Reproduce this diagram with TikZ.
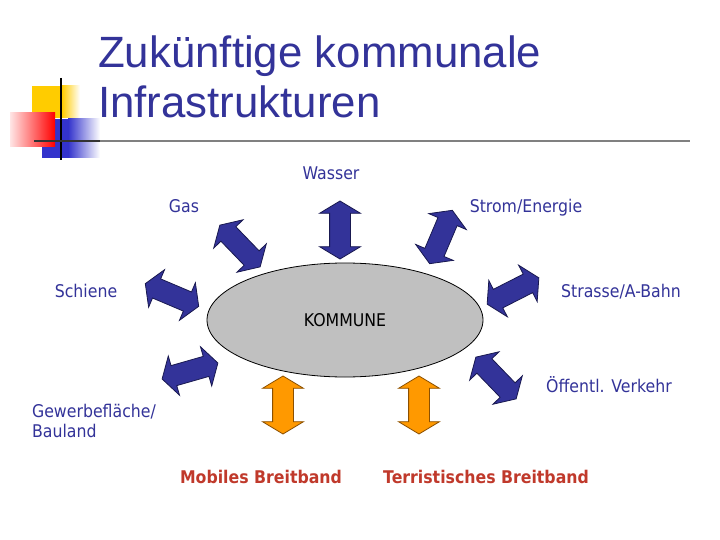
\documentclass[tikz,border=0pt]{standalone}
\usepackage{fontspec}
\usepackage{tikz}
\usetikzlibrary{shapes, positioning}
\setmainfont{DejaVu Sans}[FakeStretch=0.9]
\newfontfamily\titlefont{Liberation Sans}
\definecolor{navy}{RGB}{51,51,153}
\definecolor{arrowblue}{RGB}{51,51,153}
\definecolor{arrowline}{RGB}{25,25,80}
\definecolor{arroworange}{RGB}{255,153,0}
\definecolor{orangeline}{RGB}{140,80,0}
\definecolor{breitband}{RGB}{192,57,43}
\definecolor{ellipsegray}{RGB}{192,192,192}
\definecolor{logoyellow}{RGB}{255,204,0}
\definecolor{logored}{RGB}{255,0,0}
\definecolor{logoblue}{RGB}{51,51,204}
\tikzstyle{headline} = [anchor=base west, inner sep=0pt, text height=32pt, text depth=10pt, text=navy, font=\titlefont\fontsize{43.8}{50}\selectfont]
\tikzstyle{infotext} = [inner sep=0pt, text=navy, font=\fontsize{17.5}{20}\selectfont]
\tikzstyle{redtext} = [inner sep=0pt, text=breitband, font=\bfseries\fontsize{17.5}{20}\selectfont]
\tikzstyle{kommunebox} = [ellipse, draw=black, fill=ellipsegray, line width=0.8pt, minimum width=276pt, minimum height=114pt, inner sep=0pt, font=\fontsize{17.5}{20}\selectfont]
\tikzstyle{bluearrow} = [double arrow, double arrow head extend=10pt, double arrow tip angle=118, minimum height=58pt, inner xsep=0pt, inner ysep=10pt, draw=arrowline, fill=arrowblue, line width=0.8pt]
\tikzstyle{orangearrow} = [double arrow, double arrow head extend=10pt, double arrow tip angle=118, minimum height=58pt, inner xsep=0pt, inner ysep=10pt, draw=orangeline, fill=arroworange, line width=0.8pt]

\begin{document}
\begin{tikzpicture}[x=1pt, y=1pt, node distance=90pt]
\useasboundingbox (0,0) rectangle (720,-540);
\fill[white] (0,0) rectangle (720,-540);

\fill[logoyellow] (32,-86) rectangle (62,-118);
\shade[left color=logoyellow, right color=white] (62,-86) rectangle (80,-118);
\fill[logoblue] (42,-119) rectangle (68,-158);
\shade[left color=logoblue, right color=white] (68,-119) rectangle (100,-158);
\shade[left color=logored!10, right color=logored] (10,-113) rectangle (55,-147);
\draw[black, line width=2pt] (61,-78) -- (61,-160);
\draw[gray, line width=1.5pt] (34,-141) -- (690,-141);
\draw[black!80, line width=1.5pt] (34,-141) -- (100,-141);

\node (title1) [headline] at (98,-68) {Zukünftige kommunale};
\node (title2) [headline] at (98,-118) {Infrastrukturen};

\node (kommune) [kommunebox] at (345,-320) {KOMMUNE};
\node (wasserArrow) [bluearrow, above of=kommune, xshift=-5pt, rotate=90] {};
\node (wasser) [infotext, above of=wasserArrow, xshift=-9pt, yshift=-33pt] {Wasser};
\node (gasArrow) [bluearrow, above of=kommune, xshift=-105pt, yshift=-16pt, rotate=-46] {};
\node (gas) [infotext, left of=gasArrow, xshift=34pt, yshift=40pt] {Gas};
\node (stromArrow) [bluearrow, above of=kommune, xshift=96pt, yshift=-7pt, rotate=67] {};
\node (strom) [infotext, right of=stromArrow, xshift=-5pt, yshift=29pt] {Strom/Energie};
\node (schieneArrow) [bluearrow, left of=kommune, xshift=-83pt, yshift=25pt, rotate=-23] {};
\node (schiene) [infotext, left of=schieneArrow, xshift=4pt, yshift=4pt] {Schiene};
\node (strasseArrow) [bluearrow, right of=kommune, xshift=78pt, yshift=29pt, rotate=27] {};
\node (strasse) [infotext, right of=strasseArrow, xshift=18pt, yshift=-1pt] {Strasse/A-Bahn};
\node (oeffArrow) [bluearrow, right of=kommune, xshift=61pt, yshift=-58pt, rotate=-46] {};
\node (oeff) [infotext, right of=oeffArrow, xshift=23pt, yshift=-7pt] {Öffentl. Verkehr};
\node (gewerbeArrow) [bluearrow, left of=kommune, xshift=-65pt, yshift=-51pt, rotate=16] {};
\node (gewerbe) [infotext, align=left, left of=gewerbeArrow, xshift=-6pt, yshift=-50pt] {Gewerbefläche/\\Bauland};
\node (mobilArrow) [orangearrow, below of=kommune, xshift=-62pt, yshift=5pt, rotate=90] {};
\node (mobil) [redtext, below of=mobilArrow, xshift=-22pt, yshift=18pt] {Mobiles Breitband};
\node (terrArrow) [orangearrow, below of=kommune, xshift=74pt, yshift=5pt, rotate=90] {};
\node (terr) [redtext, below of=terrArrow, xshift=67pt, yshift=18pt] {Terristisches Breitband};

\end{tikzpicture}
\end{document}
